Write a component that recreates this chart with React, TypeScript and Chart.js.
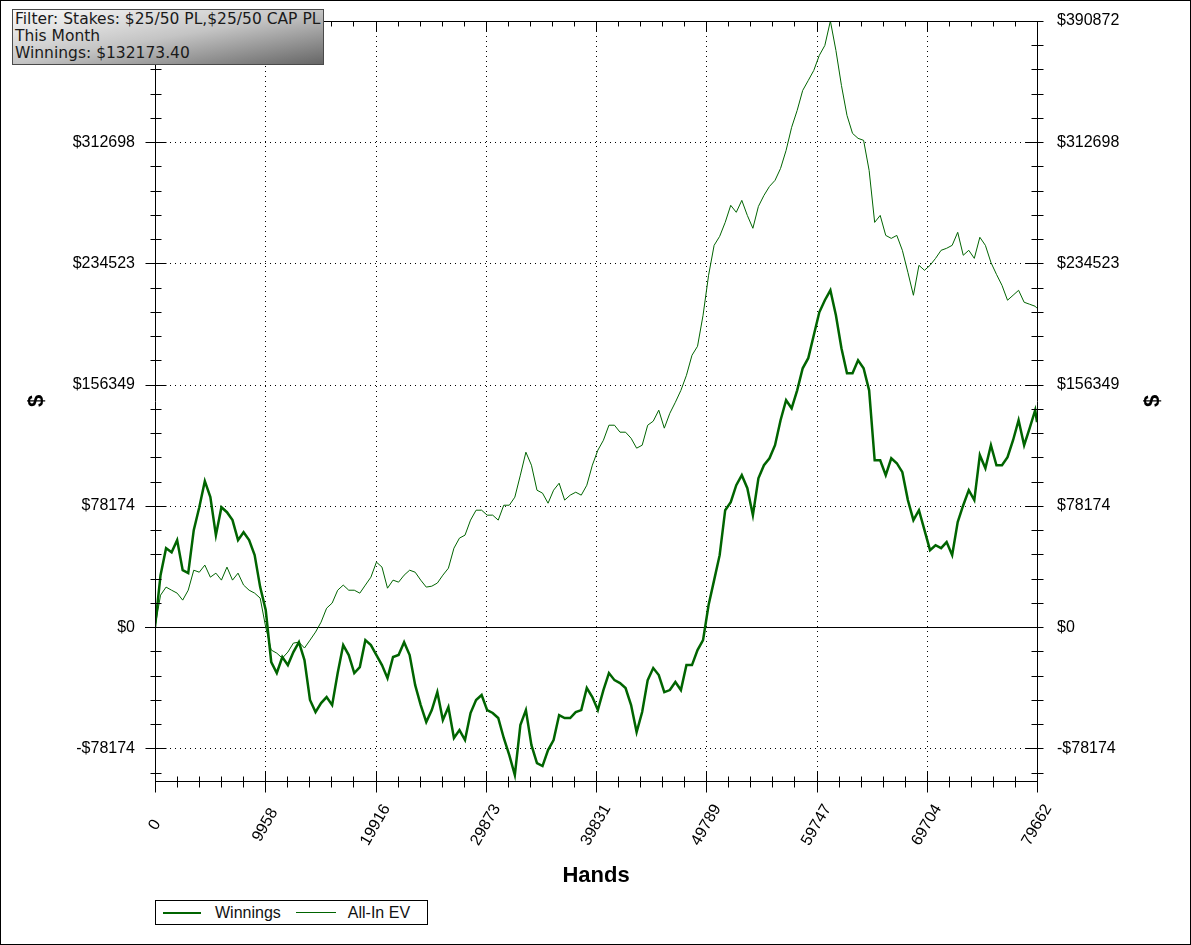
import React, { useEffect, useRef } from 'react';
import { Chart, registerables } from 'chart.js';

Chart.register(...registerables);

// Hands are sampled every 500, the last point is the final hand
const TOTAL_HANDS = 79662;
const HAND_STEP = 500;

const winnings = [
  0, 33500, 50900, 48300, 56100, 36700, 34800, 62500, 77300, 94100,
  83800, 59300, 77300, 74100, 69000, 56100, 61200, 56100, 46400, 25800,
  11000, -22600, -29600, -19300, -24500, -16100, -9700, -21300, -47000, -54800,
  -49000, -45100, -50300, -29600, -11600, -18000, -29600, -25800, -8400, -11600,
  -18000, -24500, -32900, -19300, -18000, -9700, -18000, -37400, -50300, -61200,
  -53500, -41900, -59900, -51600, -71500, -66400, -72800, -55400, -47000, -43800,
  -53500, -55400, -58600, -71500, -82500, -95400, -63200, -53500, -76100, -87700,
  -89600, -79300, -72800, -56700, -58600, -58600, -54800, -53500, -39300, -45100,
  -53500, -40600, -29600, -34200, -36100, -39300, -50300, -67700, -54800, -34200,
  -26400, -30900, -41900, -40600, -35400, -40600, -24500, -24500, -14800, -8400,
  14200, 30300, 46400, 75400, 80600, 91500, 98000, 89600, 72200, 96000,
  104400, 108900, 117300, 133400, 146300, 141100, 152700, 166900, 173400, 188200,
  203000, 210800, 217200, 201100, 179800, 163700, 163700, 172100, 166900, 152700,
  107600, 107600, 98000, 108900, 105700, 99900, 81900, 69000, 75400, 62500,
  49600, 52800, 50900, 54800, 46400, 67700, 78600, 88300, 81900, 110900,
  102500, 117300, 104400, 104400, 109600, 120500, 133400, 117300, 128300, 139900,
  132173.4,
];

const allInEV = [
  0, 20600, 25800, 23800, 21900, 17400, 23800, 36700, 35400, 40000,
  32200, 34800, 30300, 38700, 30300, 34800, 27100, 23800, 21900, 18700,
  0, -14800, -16800, -20000, -16100, -10300, -9700, -13500, -8400, -3200,
  3200, 12200, 15500, 23800, 27100, 23800, 23800, 21900, 27100, 32200,
  41900, 38700, 25100, 30300, 29000, 33500, 36700, 35400, 30300, 25800,
  26400, 28400, 33500, 38000, 50900, 57400, 59300, 69000, 75400, 75400,
  72200, 72200, 69000, 78600, 78600, 83800, 98000, 112800, 104400, 88300,
  86400, 79900, 88300, 92800, 81900, 85100, 87000, 85100, 91500, 104400,
  114100, 120500, 130200, 130200, 125700, 125700, 121800, 115400, 117300, 130200,
  132800, 139900, 128300, 137900, 145000, 152700, 162400, 175300, 181100, 201100,
  226900, 246200, 252000, 261000, 272000, 267500, 275200, 265500, 257200, 271300,
  278400, 284200, 288100, 295800, 307400, 322300, 333200, 346100, 352500, 359000,
  368700, 375100, 390872, 371900, 349300, 330000, 318400, 315200, 313900, 294500,
  261000, 265500, 252600, 250700, 252600, 243000, 228800, 214000, 233300, 230100,
  233300, 237800, 243000, 244300, 246200, 254600, 239800, 243000, 237800, 251400,
  246200, 235200, 227500, 220400, 210800, 214000, 217200, 209500, 208200, 206900,
  205600,
];

const xTickValues = [0, 9958, 19916, 29873, 39831, 49789, 59747, 69704, 79662];
const xTickLabels = ['0', '9958', '19916', '29873', '39831', '49789', '59747', '69704', '79662'];

const yTickValues = [-78174.4, 0, 78174.4, 156348.8, 234523.2, 312697.6, 390872];
const yTickLabels = ['-$78174', '$0', '$78174', '$156349', '$234523', '$312698', '$390872'];

const Y_MIN = -99240;
const Y_MAX = 390872;
const MINOR_PER_MAJOR = 5;

const infoLines = ['Filter: Stakes: $25/50 PL,$25/50 CAP PL', 'This Month', 'Winnings: $132173.40'];

const LINE_GREEN = '#006400';
const FONT = '"Liberation Sans", Arial, sans-serif';

const hands = winnings.map((_, i) => (i === winnings.length - 1 ? TOTAL_HANDS : i * HAND_STEP));

// minor tick values between the majors (and below the lowest one)
const minorTicks = (majors: number[], lo: number) => {
  const out: number[] = [];
  const step = (majors[1] - majors[0]) / MINOR_PER_MAJOR;
  for (let v = majors[0] - step; v >= lo; v -= step) out.push(v);
  for (let i = 0; i < majors.length - 1; i++) {
    for (let k = 1; k < MINOR_PER_MAJOR; k++) out.push(majors[i] + k * step);
  }
  return out;
};

const crisp = (v: number) => Math.round(v) + 0.5;

const axesPlugin = {
  id: 'ptAxes',
  beforeDatasetsDraw(chart: any) {
    const { ctx, chartArea: a, scales } = chart;
    ctx.save();
    ctx.strokeStyle = '#000';
    ctx.lineWidth = 1;
    ctx.setLineDash([1, 4]);
    ctx.beginPath();
    xTickValues.slice(1, -1).forEach((v) => {
      const px = crisp(scales.x.getPixelForValue(v));
      ctx.moveTo(px, a.top);
      ctx.lineTo(px, a.bottom);
    });
    yTickValues.forEach((v) => {
      if (v === 0 || v >= Y_MAX) return;
      const py = crisp(scales.y.getPixelForValue(v));
      ctx.moveTo(a.left, py);
      ctx.lineTo(a.right, py);
    });
    ctx.stroke();
    ctx.setLineDash([]);
    const y0 = crisp(scales.y.getPixelForValue(0));
    ctx.beginPath();
    ctx.moveTo(a.left - 10, y0);
    ctx.lineTo(a.right + 6, y0);
    ctx.stroke();
    ctx.restore();
  },
  afterDatasetsDraw(chart: any) {
    const { ctx, chartArea: a, scales } = chart;
    const L = crisp(a.left), R = crisp(a.right), T = crisp(a.top), B = crisp(a.bottom);
    ctx.save();
    ctx.strokeStyle = '#000';
    ctx.lineWidth = 1;
    ctx.beginPath();
    ctx.rect(L, T, R - L, B - T);

    // y ticks, left and right
    const yMinor = minorTicks(yTickValues, Y_MIN);
    yMinor.forEach((v) => {
      const py = crisp(scales.y.getPixelForValue(v));
      ctx.moveTo(L - 5, py); ctx.lineTo(L + 6, py);
      ctx.moveTo(R - 6, py); ctx.lineTo(R + 6, py);
    });
    yTickValues.forEach((v) => {
      const py = crisp(scales.y.getPixelForValue(v));
      ctx.moveTo(L - 10, py); ctx.lineTo(L + 11, py);
      ctx.moveTo(R - 12, py); ctx.lineTo(R + 6, py);
    });

    // x ticks, bottom and top
    const xMinor = minorTicks(xTickValues, 0);
    xMinor.forEach((v) => {
      const px = crisp(scales.x.getPixelForValue(v));
      ctx.moveTo(px, B - 5); ctx.lineTo(px, B + 6);
      ctx.moveTo(px, T); ctx.lineTo(px, T + 5);
    });
    xTickValues.forEach((v) => {
      const px = crisp(scales.x.getPixelForValue(v));
      ctx.moveTo(px, B - 10); ctx.lineTo(px, B + 11);
      ctx.moveTo(px, T); ctx.lineTo(px, T + 10);
    });
    ctx.stroke();

    // rotated x labels, centred under each tick
    ctx.fillStyle = '#000';
    ctx.font = `16px ${FONT}`;
    ctx.textAlign = 'center';
    ctx.textBaseline = 'middle';
    xTickValues.forEach((v, i) => {
      const px = scales.x.getPixelForValue(v);
      ctx.save();
      ctx.translate(px, a.bottom + 44);
      ctx.rotate(-Math.PI / 3);
      ctx.fillText(xTickLabels[i], 0, 0);
      ctx.restore();
    });

    // right "$" title, turned the same way as the left one
    ctx.font = `bold 22px ${FONT}`;
    ctx.translate(chart.width - 37, (a.top + a.bottom) / 2);
    ctx.rotate(-Math.PI / 2);
    ctx.fillText('$', 0, 0);
    ctx.restore();
  },
};

const yAxis = (position: 'left' | 'right', width: number) => ({
  type: 'linear' as const,
  position,
  min: Y_MIN,
  max: Y_MAX,
  afterBuildTicks: (scale: any) => {
    scale.ticks = yTickValues.map((value) => ({ value }));
  },
  afterFit: (scale: any) => {
    scale.width = width;
    scale.paddingTop = 0;
    scale.paddingBottom = 0;
  },
  grid: { display: false, drawTicks: false },
  border: { display: false },
  ticks: {
    autoSkip: false,
    padding: 20,
    color: '#000',
    font: { size: 16, family: FONT },
    callback: (_v: any, i: number) => yTickLabels[i],
  },
  title: {
    display: position === 'left',
    text: '$',
    color: '#000',
    font: { size: 22, weight: 'bold' as const, family: FONT },
    padding: { top: 23, bottom: 0 },
  },
});

const WinningsChart: React.FC = () => {
  const canvasRef = useRef<HTMLCanvasElement>(null);

  useEffect(() => {
    if (!canvasRef.current) return;
    const chart = new Chart(canvasRef.current, {
      type: 'line',
      data: {
        datasets: [
          {
            label: 'All-In EV',
            data: hands.map((h, i) => ({ x: h, y: allInEV[i] })),
            borderColor: LINE_GREEN,
            borderWidth: 1,
            pointRadius: 0,
            tension: 0,
            yAxisID: 'y',
          },
          {
            label: 'Winnings',
            data: hands.map((h, i) => ({ x: h, y: winnings[i] })),
            borderColor: LINE_GREEN,
            borderWidth: 2.5,
            pointRadius: 0,
            tension: 0,
            yAxisID: 'y',
          },
        ],
      },
      options: {
        animation: false,
        responsive: false,
        events: [],
        layout: { padding: { top: 20, left: 0, right: 0, bottom: 0 } },
        plugins: { legend: { display: false }, tooltip: { enabled: false } },
        scales: {
          x: {
            type: 'linear',
            min: 0,
            max: TOTAL_HANDS,
            afterFit: (scale: any) => {
              scale.height = 163;
              scale.paddingLeft = 0;
              scale.paddingRight = 0;
            },
            grid: { display: false, drawTicks: false },
            border: { display: false },
            ticks: { display: false },
            title: {
              display: true,
              text: 'Hands',
              color: '#000',
              font: { size: 22, weight: 'bold', family: FONT },
              padding: { top: 0, bottom: 55 },
            },
          },
          y: yAxis('left', 154),
          y2: yAxis('right', 153),
        },
      },
      plugins: [axesPlugin],
    });
    return () => chart.destroy();
  }, []);

  return (
    <div
      style={{
        position: 'absolute',
        left: 0,
        top: 0,
        width: 1191,
        height: 945,
        boxSizing: 'border-box',
        border: '1px solid #000',
        background: '#fff',
      }}
    >
      <canvas ref={canvasRef} width={1189} height={943} style={{ display: 'block' }} />

      {/* Filter box */}
      <div
        style={{
          position: 'absolute',
          left: 11,
          top: 8,
          width: 312,
          height: 56,
          boxSizing: 'border-box',
          border: '1px solid #4a4a4a',
          background: 'linear-gradient(to bottom right, #fbfbfb 0%, #c4c4c4 50%, #666 100%)',
          font: '15.5px "DejaVu Sans", Verdana, sans-serif',
          lineHeight: '17px',
          color: '#1a1a1a',
          padding: '1px 0 0 2px',
          whiteSpace: 'nowrap',
          overflow: 'hidden',
        }}
      >
        {infoLines.map((t) => (
          <div key={t}>{t}</div>
        ))}
      </div>

      {/* Legend */}
      <div
        style={{
          position: 'absolute',
          left: 154,
          top: 899,
          width: 273,
          height: 25,
          boxSizing: 'border-box',
          border: '1px solid #000',
          background: '#fff',
          display: 'flex',
          alignItems: 'center',
          font: `16px ${FONT}`,
          color: '#111',
          paddingLeft: 7,
        }}
      >
        <span style={{ width: 38, height: 2, background: LINE_GREEN, display: 'inline-block' }} />
        <span style={{ marginLeft: 14 }}>Winnings</span>
        <span style={{ width: 40, height: 1, background: LINE_GREEN, display: 'inline-block', marginLeft: 15 }} />
        <span style={{ marginLeft: 12 }}>All-In EV</span>
      </div>
    </div>
  );
};

export default function App() {
  return <WinningsChart />;
}
